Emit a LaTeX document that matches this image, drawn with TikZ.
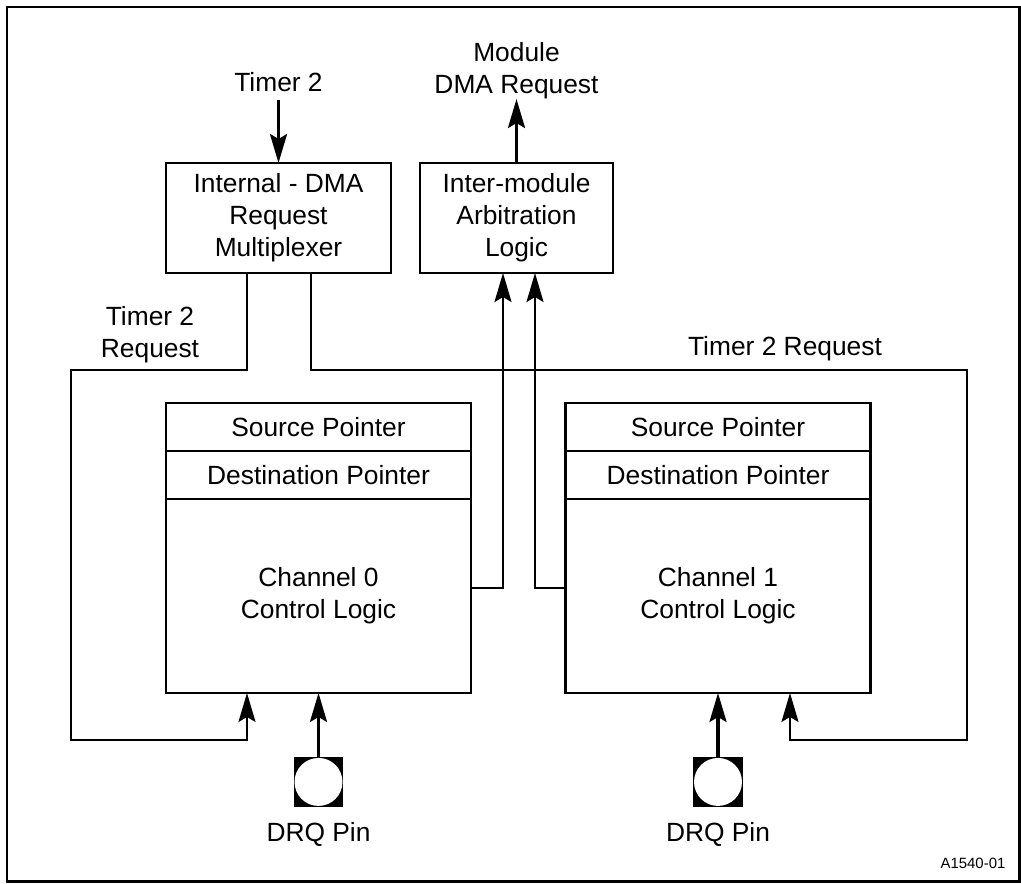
\documentclass[tikz,border=0pt]{standalone}
\usepackage{fontspec}
\setmainfont{Liberation Sans}
\usetikzlibrary{arrows.meta,positioning}
\newcommand{\lblfont}{\fontsize{15}{18.2}\selectfont}
\tikzset{
  wire/.style={line width=1.3pt},
  grueso/.style={line width=1.8pt},
  flecha/.style={-{Stealth[length=0.58cm,width=0.34cm,inset=0.1cm]}},
  caja/.style={draw, line width=1.3pt, align=center, inner sep=0pt, outer sep=0pt, font=\lblfont},
  fila/.style={caja, minimum width=6.1cm, minimum height=0.96cm},
  etiqueta/.style={align=center, inner sep=0pt, font=\lblfont},
  drqpad/.style={fill=black, minimum size=1cm, inner sep=0pt, outer sep=0pt,
    path picture={\fill[white] (path picture bounding box.center) circle (0.48cm);}}
}
\begin{document}
\begin{tikzpicture}[x=0.02cm, y=-0.02cm]
    \useasboundingbox (0,0) rectangle (1021,883);
    % Marco
    \draw[wire] (7,7) rectangle (1019.5,881.5);

    % Bloques superiores
    \node[caja, minimum width=4.5cm, minimum height=2.2cm] (mux) at (278.5,218) {Internal - DMA\\Request\\Multiplexer};
    \node[caja, minimum width=3.86cm, minimum height=2.2cm] (arb) at (516.5,218) {Inter-module\\Arbitration\\Logic};
    \node[etiqueta, above=1.42cm of mux] (t2in) {Timer 2};
    \node[etiqueta, above=1.28cm of arb] (modreq) {Module\\DMA Request};

    % Canal 0
    \node[fila] (src0) at (318.5,427) {Source Pointer};
    \node[fila, below=0pt of src0] (dst0) {Destination Pointer};
    \node[caja, minimum width=6.1cm, minimum height=3.88cm, below=0pt of dst0] (ctl0) {Channel 0\\Control Logic};

    % Canal 1
    \node[fila] (src1) at (718,427) {Source Pointer};
    \node[fila, below=0pt of src1] (dst1) {Destination Pointer};
    \node[caja, minimum width=6.1cm, minimum height=3.88cm, below=0pt of dst1] (ctl1) {Channel 1\\Control Logic};

    % Pines DRQ
    \node[drqpad, below=1.28cm of ctl0] (drq0) {};
    \node[drqpad, below=1.28cm of ctl1] (drq1) {};
    \node[etiqueta, below=0.3cm of drq0] (drqlbl0) {DRQ Pin};
    \node[etiqueta, below=0.3cm of drq1] (drqlbl1) {DRQ Pin};

    % Etiquetas de las lineas
    \node[etiqueta] (t2reql) at (150,335) {Timer 2\\Request};
    \node[etiqueta] (t2reqr) at (785,349) {Timer 2 Request};
    \node[inner sep=0pt, font=\fontsize{8.5}{10}\selectfont] (figid) at (973,863) {A1540-01};

    % Puntos de paso
    \coordinate (muxl) at (247,0);
    \coordinate (muxr) at (311,0);
    \coordinate (lt) at (71,370);
    \coordinate (lb) at (247,740);
    \coordinate (rt) at (967,370);
    \coordinate (rb) at (790,740);
    \coordinate (c0) at (503,588);
    \coordinate (c1) at (535,588);

    % Conexiones
    \draw[grueso, flecha, shorten <=0.16cm] (t2in) -- (mux);
    \draw[grueso, flecha] (arb) -- (modreq);
    \draw[wire, flecha] (mux.south -| muxl) |- (lt) |- (lb) -- (ctl0.south -| lb);
    \draw[wire, flecha] (mux.south -| muxr) |- (rt) |- (rb) -- (ctl1.south -| rb);
    \draw[wire, flecha] (ctl0.east |- c0) -- (c0) -- (arb.south -| c0);
    \draw[wire, flecha] (ctl1.west |- c1) -- (c1) -- (arb.south -| c1);
    \draw[grueso, flecha] (drq0) -- (ctl0);
    \draw[grueso, flecha] (drq1) -- (ctl1);
\end{tikzpicture}
\end{document}
